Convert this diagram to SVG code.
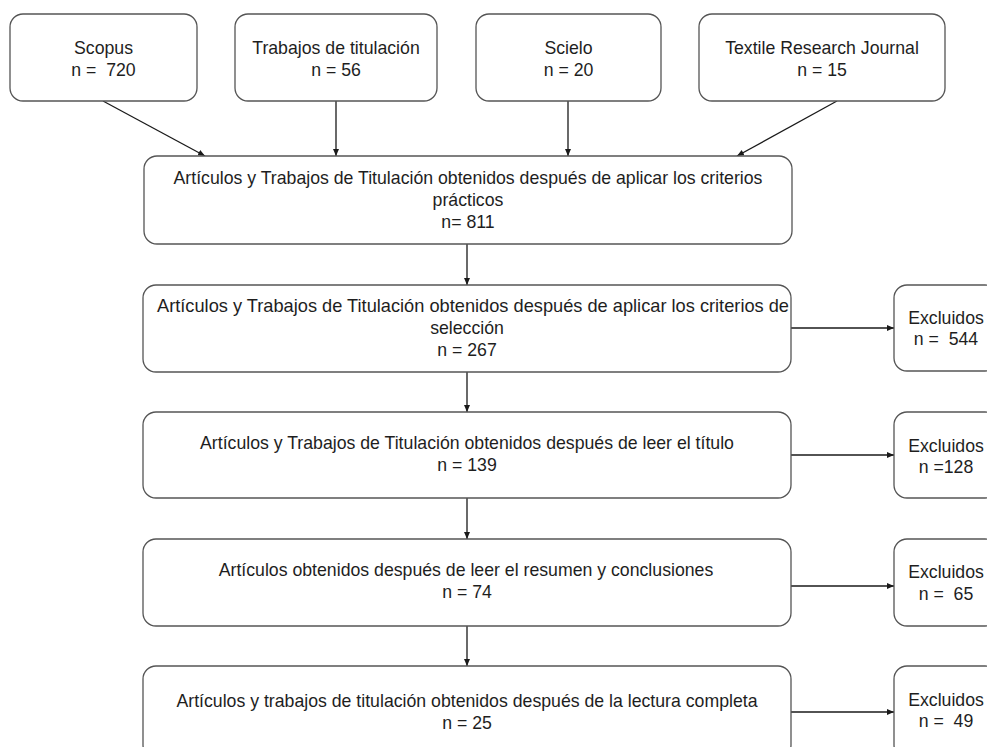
<svg xmlns="http://www.w3.org/2000/svg" width="987" height="747" viewBox="0 0 987 747">
<defs>
<marker id="ah" markerWidth="7" markerHeight="6" refX="7" refY="3" orient="auto" markerUnits="userSpaceOnUse">
<path d="M0,0 L7,3 L0,6 z" fill="#1a1a1a"/>
</marker>
<style>
.box{fill:#ffffff;stroke:#555555;stroke-width:1.3}
.t{font-family:"Liberation Sans",Arial,sans-serif;font-size:17.7px;fill:#1e1e1e;text-anchor:middle}
.c{fill:none;stroke:#1a1a1a;stroke-width:1.3;marker-end:url(#ah)}
</style>
</defs>
<rect width="987" height="747" fill="#ffffff"/>
<g id="connectors">
<line class="c" x1="103" y1="101" x2="205" y2="156"/>
<line class="c" x1="336" y1="101" x2="336" y2="156"/>
<line class="c" x1="568" y1="101" x2="568" y2="156"/>
<line class="c" x1="837" y1="101" x2="737" y2="156"/>
<line class="c" x1="467" y1="244" x2="467" y2="285"/>
<line class="c" x1="467" y1="372" x2="467" y2="412"/>
<line class="c" x1="467" y1="498" x2="467" y2="539"/>
<line class="c" x1="467" y1="626" x2="467" y2="666"/>
<line class="c" x1="791" y1="328" x2="894" y2="328"/>
<line class="c" x1="791" y1="455" x2="894" y2="455"/>
<line class="c" x1="791" y1="586" x2="894" y2="586"/>
<line class="c" x1="791" y1="712" x2="894" y2="712"/>
</g>
<g id="scopus">
<rect class="box" x="10" y="14" width="187" height="87" rx="13"/>
<text class="t" x="103.5" y="54">Scopus</text>
<text class="t" x="103.5" y="76" xml:space="preserve">n =  720</text>
</g>
<g id="trabajos">
<rect class="box" x="235" y="14" width="202" height="87" rx="13"/>
<text class="t" x="336" y="54">Trabajos de titulación</text>
<text class="t" x="336" y="76">n = 56</text>
</g>
<g id="scielo">
<rect class="box" x="476" y="14" width="185" height="87" rx="13"/>
<text class="t" x="568.5" y="54">Scielo</text>
<text class="t" x="568.5" y="76">n = 20</text>
</g>
<g id="textile">
<rect class="box" x="699" y="14" width="246" height="87" rx="13"/>
<text class="t" x="822" y="54">Textile Research Journal</text>
<text class="t" x="822" y="76">n = 15</text>
</g>
<g id="practicos">
<rect class="box" x="144" y="156" width="648" height="88" rx="13"/>
<text class="t" x="468" y="184">Artículos y Trabajos de Titulación obtenidos después de aplicar los criterios</text>
<text class="t" x="468" y="206">prácticos</text>
<text class="t" x="468" y="228">n= 811</text>
</g>
<g id="seleccion">
<rect class="box" x="143" y="285" width="648" height="87" rx="13"/>
<text class="t" x="473" y="312" textLength="632" lengthAdjust="spacingAndGlyphs">Artículos y Trabajos de Titulación obtenidos después de aplicar los criterios de</text>
<text class="t" x="467" y="334">selección</text>
<text class="t" x="467" y="356">n = 267</text>
</g>
<g id="titulo">
<rect class="box" x="143" y="412" width="648" height="86" rx="13"/>
<text class="t" x="467" y="449">Artículos y Trabajos de Titulación obtenidos después de leer el título</text>
<text class="t" x="467" y="471">n = 139</text>
</g>
<g id="resumen">
<rect class="box" x="143" y="539" width="648" height="87" rx="13"/>
<text class="t" x="466" y="576">Artículos obtenidos después de leer el resumen y conclusiones</text>
<text class="t" x="467" y="598">n = 74</text>
</g>
<g id="completa">
<rect class="box" x="143" y="666" width="648" height="92" rx="13"/>
<text class="t" x="467" y="707">Artículos y trabajos de titulación obtenidos después de la lectura completa</text>
<text class="t" x="467" y="729">n = 25</text>
</g>
<g id="excl1">
<rect class="box" x="894" y="285" width="104" height="86" rx="13"/>
<text class="t" x="946" y="324">Excluidos</text>
<text class="t" x="946" y="345" xml:space="preserve">n =  544</text>
</g>
<g id="excl2">
<rect class="box" x="894" y="412" width="104" height="86" rx="13"/>
<text class="t" x="946" y="452">Excluidos</text>
<text class="t" x="946" y="473">n =128</text>
</g>
<g id="excl3">
<rect class="box" x="894" y="539" width="104" height="87" rx="13"/>
<text class="t" x="946" y="578">Excluidos</text>
<text class="t" x="946" y="600" xml:space="preserve">n =  65</text>
</g>
<g id="excl4">
<rect class="box" x="894" y="666" width="104" height="92" rx="13"/>
<text class="t" x="946" y="706">Excluidos</text>
<text class="t" x="946" y="727" xml:space="preserve">n =  49</text>
</g>
</svg>
